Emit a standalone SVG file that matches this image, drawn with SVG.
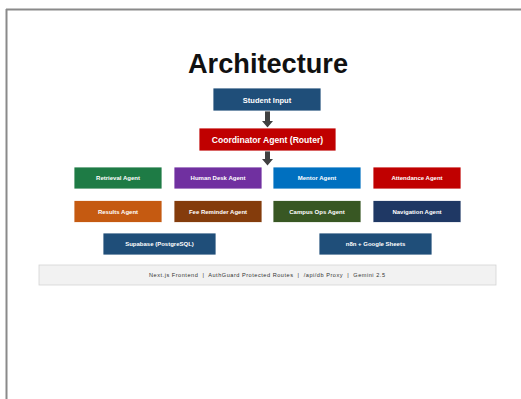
<svg xmlns="http://www.w3.org/2000/svg" width="521" height="399" viewBox="0 0 521 399">
<style>
.box{stroke:#ffffff;stroke-width:0.8}
.lbl{font-family:"Liberation Sans",Arial,sans-serif;font-weight:bold;fill:#ffffff;text-anchor:middle}
.s{font-size:6px}
.m{font-size:7.5px}
.title{font-family:"Liberation Sans",Arial,sans-serif;font-weight:bold;font-size:28px;fill:#111111;text-anchor:middle}
.foot{font-family:"Liberation Sans",Arial,sans-serif;font-size:5.6px;fill:#333333;text-anchor:middle}
.arrow{fill:#404040}
</style>
<rect x="0" y="0" width="521" height="399" fill="#ffffff"/>
<path d="M6 9.5H521M6.5 9V399" fill="none" stroke="#8a8a8a" stroke-width="2"/>
<text class="title" x="268" y="73" textLength="160" lengthAdjust="spacingAndGlyphs">Architecture</text>
<g id="connectors">
<polygon class="arrow" points="265,111 270,111 270,121 273,121 267.5,127.5 262,121 265,121"/>
<polygon class="arrow" points="265,151 270,151 270,159 273,159 267.5,165.5 262,159 265,159"/>
</g>
<g id="student-input"><rect class="box" x="213" y="88" width="108" height="23" fill="#1f4e79"/><text class="lbl m" x="267" y="102.5">Student Input</text></g>
<g id="coordinator"><rect class="box" x="199" y="128" width="137" height="23" fill="#c00000"/><text class="lbl" style="font-size:8.6px" x="267.5" y="142.8">Coordinator Agent (Router)</text></g>
<g id="retrieval"><rect class="box" x="74" y="167" width="88" height="22" fill="#1e7b45"/><text class="lbl s" x="118" y="180">Retrieval Agent</text></g>
<g id="human-desk"><rect class="box" x="174" y="167" width="88" height="22" fill="#7030a0"/><text class="lbl s" x="218" y="180">Human Desk Agent</text></g>
<g id="mentor"><rect class="box" x="273" y="167" width="88" height="22" fill="#0070c0"/><text class="lbl s" x="317" y="180">Mentor Agent</text></g>
<g id="attendance"><rect class="box" x="373" y="167" width="88" height="22" fill="#c00000"/><text class="lbl s" x="417" y="180">Attendance Agent</text></g>
<g id="results"><rect class="box" x="74" y="200.5" width="88" height="22" fill="#c55a11"/><text class="lbl s" x="118" y="213.5">Results Agent</text></g>
<g id="fee-reminder"><rect class="box" x="174" y="200.5" width="88" height="22" fill="#843c0c"/><text class="lbl s" x="218" y="213.5">Fee Reminder Agent</text></g>
<g id="campus-ops"><rect class="box" x="273" y="200.5" width="88" height="22" fill="#385723"/><text class="lbl s" x="317" y="213.5">Campus Ops Agent</text></g>
<g id="navigation"><rect class="box" x="373" y="200.5" width="88" height="22" fill="#1f3864"/><text class="lbl s" x="417" y="213.5">Navigation Agent</text></g>
<g id="supabase"><rect class="box" x="103" y="233" width="113" height="22" fill="#1f4e79"/><text class="lbl s" x="159.5" y="246">Supabase (PostgreSQL)</text></g>
<g id="n8n"><rect class="box" x="319" y="233" width="113" height="22" fill="#1f4e79"/><text class="lbl s" x="375.5" y="246">n8n + Google Sheets</text></g>
<g id="footer"><rect x="39" y="265" width="457" height="20" fill="#f2f2f2" stroke="#d4d4d4" stroke-width="0.8"/><text class="foot" x="267" y="277" textLength="236" xml:space="preserve">Next.js Frontend  |  AuthGuard Protected Routes  |  /api/db Proxy  |  Gemini 2.5</text></g>
</svg>
